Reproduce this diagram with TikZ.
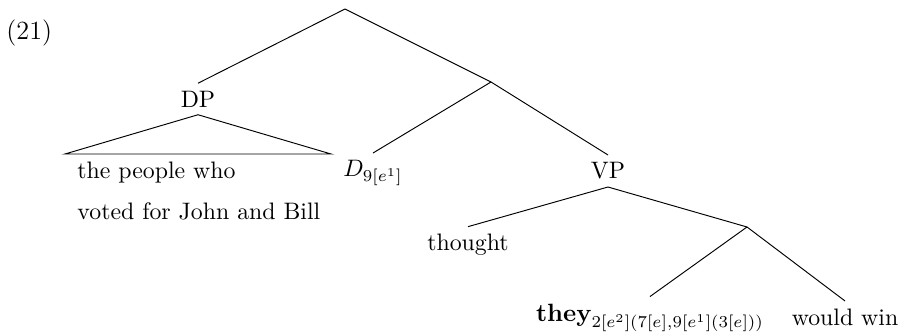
\documentclass[tikz,border=0pt]{standalone}
\usepackage{amsmath}
\usetikzlibrary{positioning}

\begin{document}
\begin{tikzpicture}[x=0.42pt,y=-0.42pt]
\tikzset{treelabel/.style={inner sep=3pt}}
\useasboundingbox (0,0) rectangle (903,335);

\node[anchor=west, inner sep=0pt, font=\fontsize{11}{13}\selectfont] (exnum) at (6,33) {(21)};

\coordinate (root) at (345,9);
\coordinate (bar) at (491,82);
\node[treelabel] (dp) at (198,99) {DP};
\coordinate (dp_left) at (65,154);
\coordinate (dp_right) at (331,154);
\node[anchor=west, inner sep=0pt] (dp_text1) at (77,173) {the people who};
\node[anchor=west, inner sep=0pt] (dp_text2) at (77,211) {voted for John and Bill};
\node[treelabel] (det) at (373,173) {$D_{9[e^1]}$};
\node[treelabel] (vp) at (608,171) {VP};
\node[treelabel] (thought) at (468,245) {thought};
\coordinate (vbar) at (747,227);
\node[treelabel, font=\fontsize{10.5}{12}\selectfont] (they) at (650,318) {$\textbf{they}_{2[e^2](7[e],9[e^1](3[e]))}$};
\node[treelabel] (win) at (845,317) {would win};

\draw (root) -- (dp.north);
\draw (root) -- (bar);
\draw (dp.south) -- (dp_left) -- (dp_right) -- cycle;
\draw (bar) -- (det.north);
\draw (bar) -- (vp.north);
\draw (vp.south) -- (thought.north);
\draw (vp.south) -- (vbar);
\draw (vbar) -- (they.north);
\draw (vbar) -- (win.north);

\end{tikzpicture}
\end{document}
